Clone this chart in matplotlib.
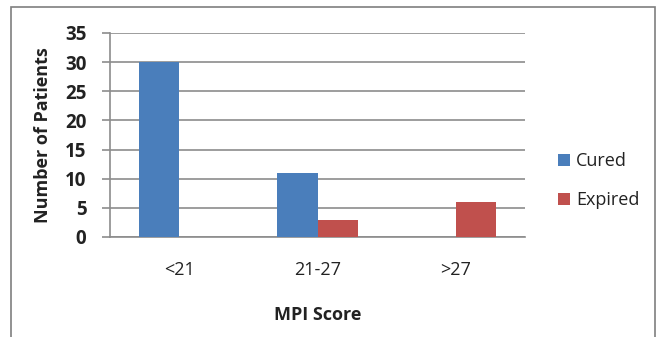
import numpy as np
import matplotlib.pyplot as plt
from matplotlib.patches import Rectangle

categories = ['<21', '21-27', '>27']
cured = [30, 11, 0]
expired = [0, 3, 6]
yticks = [0, 5, 10, 15, 20, 25, 30, 35]

W, H = 657, 337
fig = plt.figure(figsize=(W / 100, H / 100), dpi=100)
plt.rcParams['font.family'] = ['Open Sans', 'DejaVu Sans']
fs = 13
txt = '#222222'
grid = '#8c8c8c'

# outer frame around the chart
fig.patches.append(Rectangle((11 / W, -0.1), (655 - 11) / W, 1.1 - 7 / H,
                             transform=fig.transFigure, fill=False,
                             edgecolor='#7f7f7f', lw=1.2))

ax = fig.add_axes([110 / W, 1 - 237 / H, (525 - 110) / W, (237 - 33) / H])

x = np.arange(len(categories))
bw = 0.29
ax.bar(x - bw / 2, cured, bw, color='#4a7ebb', label='Cured', zorder=3)
ax.bar(x + bw / 2, expired, bw, color='#c0504d', label='Expired', zorder=3)

ax.set_xlim(-0.5, 2.5)
ax.set_ylim(0, 35)
ax.set_yticks(yticks)
ax.yaxis.grid(True, color=grid, lw=1.2, zorder=0)
for s in ['top', 'right']:
    ax.spines[s].set_visible(False)
for s in ['left', 'bottom']:
    ax.spines[s].set_color(grid)
    ax.spines[s].set_linewidth(1.2)
ax.tick_params(axis='y', length=6, color=grid, width=1.2, pad=11,
               labelsize=fs + 0.5, labelcolor=txt)
ax.tick_params(axis='x', length=0, pad=17, labelsize=fs, labelcolor=txt)
for t in ax.get_yticklabels():
    t.set_fontweight('bold')
ax.set_xticks(x)
ax.set_xticklabels(categories)

ax.set_ylabel('Number of Patients', fontsize=fs, fontweight='bold',
              color=txt, labelpad=9)
ax.set_xlabel('MPI Score', fontsize=fs, fontweight='bold', color=txt,
              labelpad=20)

fig.legend(loc='center left', bbox_to_anchor=(558 / W, 1 - 180.5 / H),
           bbox_transform=fig.transFigure, frameon=False, fontsize=fs,
           handlelength=0.65, handleheight=0.65, handletextpad=0.35,
           labelspacing=1.15, borderpad=0, borderaxespad=0, labelcolor=txt)

plt.savefig('out.png', dpi=100)
